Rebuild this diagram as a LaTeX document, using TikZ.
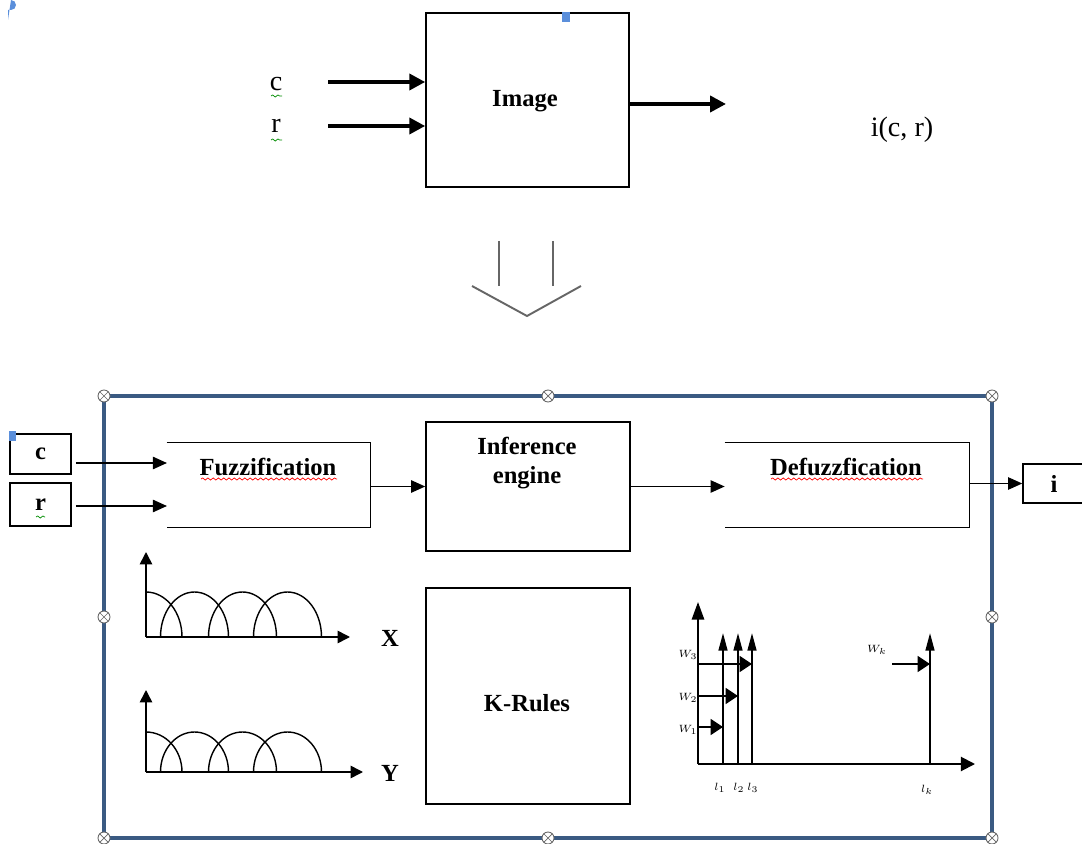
\documentclass[tikz,border=0pt]{standalone}
\usepackage{fontspec}
\setmainfont{Liberation Serif}
\usetikzlibrary{arrows.meta,positioning,decorations.pathmorphing}
\definecolor{frameblue}{HTML}{3A5A82}
\definecolor{selblue}{HTML}{5B8FDB}

\begin{document}
\begin{tikzpicture}[x=0.02cm,y=-0.02cm,
  blk/.style={draw,line width=0.9pt,inner sep=0pt},
  lbl/.style={font=\fontsize{14}{16}\selectfont\bfseries},
  plain/.style={font=\fontsize{16}{18}\selectfont},
  fat/.style={line width=2.2pt,-{Triangle[length=9pt,width=9pt]}},
  arr/.style={line width=0.85pt,-{Triangle[length=8pt,width=7pt]}},
  axis/.style={line width=0.9pt,-{Triangle[length=7pt,width=7pt]}},
  spike/.style={line width=1.1pt,-{Triangle[length=10pt,width=5pt]}},
  push/.style={line width=1.1pt,-{Triangle[length=7pt,width=9pt]}},
  tinylbl/.style={font=\fontsize{6}{7}\selectfont,inner sep=0pt},
  wavy/.style={decorate,decoration={snake,amplitude=0.6pt,segment length=3pt},line width=0.4pt},
  hdl/.style={circle,draw=black!60,fill=white,line width=0.5pt,minimum size=0.24cm,inner sep=0pt,
    path picture={\draw[black!60,line width=0.4pt]
      (path picture bounding box.north west) -- (path picture bounding box.south east)
      (path picture bounding box.north east) -- (path picture bounding box.south west);}}]

  \useasboundingbox (0,0) rectangle (1082,844);

  % top: image as a function of c and r
  \node[blk,minimum width=4.06cm,minimum height=3.48cm] (img) at (527.5,100) {};
  \node[lbl] (imglbl) at (525,101) {Image};
  \node[plain] (ctop) at (276,84) {c};
  \node[plain] (rtop) at (276,126) {r};
  \node[plain] (icr) at (902,130) {i(c, r)};
  \coordinate (cin) at (328,82);
  \coordinate (rin) at (328,126);
  \coordinate (iout) at (726,104);
  \draw[fat] (cin) -- (cin -| img.west);
  \draw[fat] (rin) -- (rin -| img.west);
  \draw[fat] (iout -| img.east) -- (iout);
  \draw[wavy,green!55!black] (271,96) -- (282,96);
  \draw[wavy,green!55!black] (271,140) -- (282,140);
  \fill[selblue] (562,12) rectangle (570,22);
  \fill[selblue] (8,10) -- (11,10) arc[start angle=90,end angle=-90,radius=5] -- (8,20) -- cycle;

  % hollow down arrow
  \draw[black!60,line width=1.1pt] (499,241) -- (499,286) (553,241) -- (553,286);
  \draw[black!60,line width=1.1pt] (472,286) -- (527,316) -- (581,286);

  % fuzzy system frame
  \draw[frameblue,line width=2.3pt] (104,396) rectangle (992,838);
  \foreach \p [count=\i] in {(104,396),(548,396),(992,396),(104,617),(992,617),(104,838),(548,838),(992,838)}
    \node[hdl] (h\i) at \p {};

  \node[blk,minimum width=1.22cm,minimum height=0.8cm,lbl] (cbox) at (40.5,454) {c};
  \node[blk,minimum width=1.22cm,minimum height=0.86cm,lbl] (rbox) at (40.5,504.5) {r};
  \fill[selblue] (9,431) rectangle (16,441);
  \draw[wavy,green!55!black] (36,517) -- (45,517);

  \node[minimum width=4.06cm,minimum height=1.68cm] (fuzz) at (268.5,485) {};
  \draw[line width=0.9pt] (fuzz.north west) -- (fuzz.north east) -- (fuzz.south east) -- (fuzz.south west);
  \node[lbl] (fuzzlbl) at (268,467) {Fuzzification};
  \draw[wavy,red] (201,479) -- (337,479);

  \coordinate (fc) at (167,463);
  \coordinate (fr) at (167,506);
  \draw[arr,shorten <=0.08cm] (cbox.east |- fc) -- (fc);
  \draw[arr,shorten <=0.08cm] (rbox.east |- fr) -- (fr);

  \node[blk,minimum width=4.08cm,minimum height=2.58cm] (inf) at (528,486.5) {};
  \node[lbl,align=center] (inflbl) at (527,463) {Inference\\engine};
  \draw[arr] (fuzz.east |- inf.west) -- (inf.west);

  \node[minimum width=4.88cm,minimum height=1.68cm] (defz) at (847,485) {};
  \draw[line width=0.9pt] (defz.north west) -- (defz.north east) -- (defz.south east) -- (defz.south west);
  \node[lbl] (defzlbl) at (846,467) {Defuzzfication};
  \draw[wavy,red] (771,479) -- (923,479);
  \draw[arr] (inf.east) -- (inf.east -| defz.west);

  \node[blk,minimum width=1.24cm,minimum height=0.78cm,lbl] (ibox) at (1054,483.5) {i};
  \draw[arr] (defz.east |- ibox.west) -- (ibox.west);

  \node[blk,minimum width=4.08cm,minimum height=4.32cm] (rules) at (528,696) {};
  \node[lbl] (ruleslbl) at (527,703) {K-Rules};

  % membership functions for X and Y
  \foreach \yb/\ry/\ya/\xe/\nm in {637/45/552/350/X, 772/40/690/363/Y} {
    \draw[axis] (146,\yb) -- (146,\ya);
    \draw[axis] (146,\yb) -- (\xe,\yb);
    \draw[line width=0.8pt] (146,\yb-\ry) arc[start angle=270,end angle=360,x radius=36,y radius=\ry];
    \foreach \xs in {160.5,208.5,253.5}
      \draw[line width=0.8pt] (\xs,\yb) arc[start angle=180,end angle=360,x radius=34,y radius=\ry];
    \node[lbl] (lbl\nm) at (390,\yb+1) {\nm};
  }

  % singleton outputs
  \draw[axis,line width=1.1pt,-{Triangle[length=10pt,width=7pt]}] (698,764) -- (698,602);
  \draw[axis,line width=1.1pt,-{Triangle[length=8pt,width=8pt]}] (698,764) -- (975,764);
  \foreach \x in {723,738,752,930}
    \draw[spike] (\x,764) -- (\x,633);
  \draw[push] (698,727) -- (723,727);
  \draw[push] (698,696) -- (738,696);
  \draw[push] (698,664) -- (752,664);
  \draw[push] (892,664) -- (930,664);
  \node[tinylbl] (w1) at (688,730) {$W_1$};
  \node[tinylbl] (w2) at (688,698) {$W_2$};
  \node[tinylbl] (w3) at (688,655) {$W_3$};
  \node[tinylbl] (wk) at (877,650) {$W_k$};
  \node[tinylbl] (l1) at (720,788) {$l_1$};
  \node[tinylbl] (l2) at (739,788) {$l_2$};
  \node[tinylbl] (l3) at (753,788) {$l_3$};
  \node[tinylbl] (lk) at (927,790) {$l_k$};
\end{tikzpicture}
\end{document}
